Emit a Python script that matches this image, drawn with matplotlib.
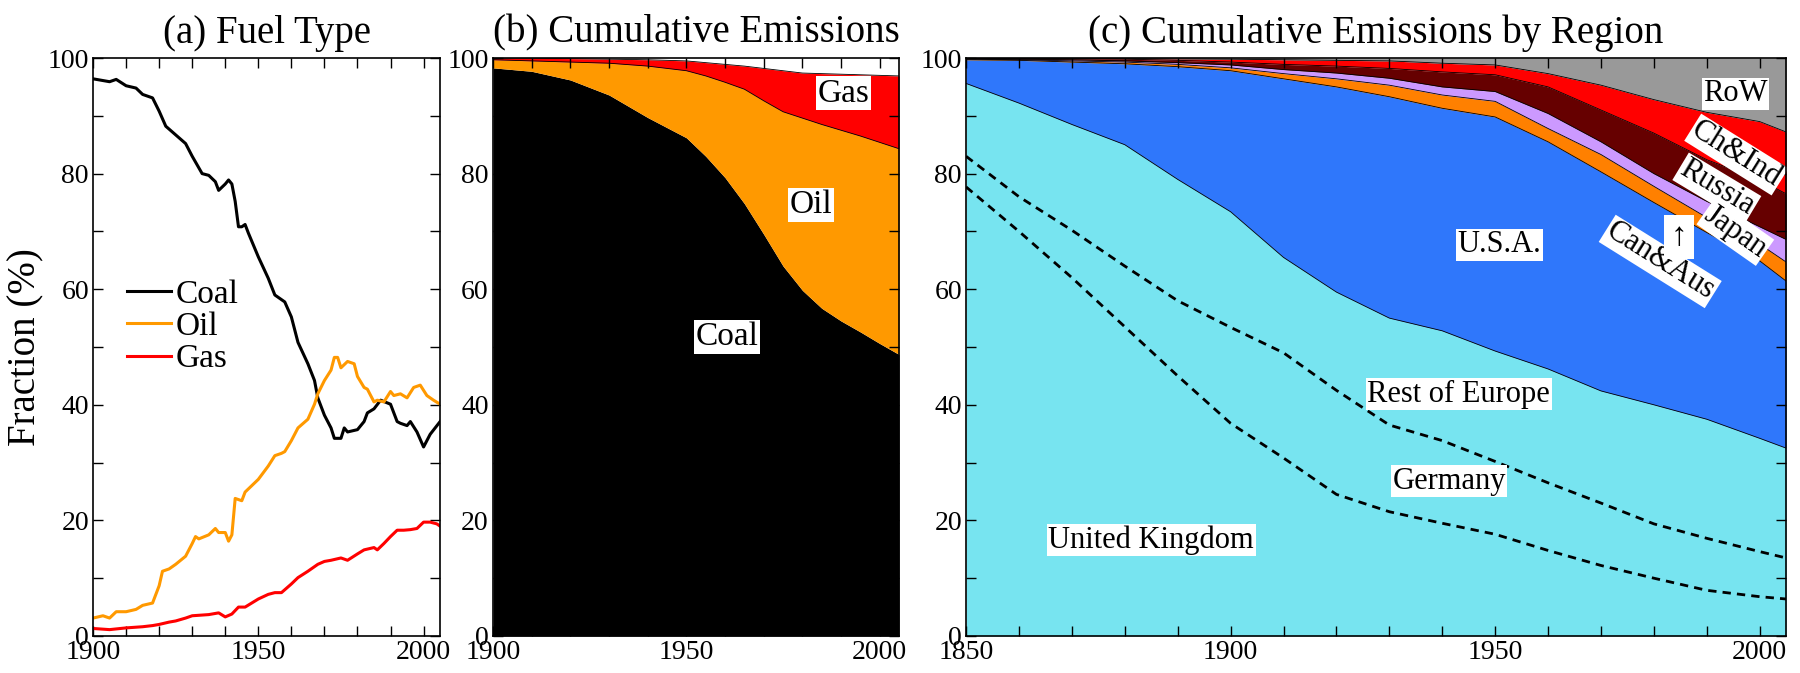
import numpy as np
import matplotlib.pyplot as plt
from matplotlib.ticker import MultipleLocator

plt.rcParams['font.family'] = ['Liberation Serif', 'DejaVu Serif']

# (a) share of each fuel in annual emissions (%)
coal_yr = [1900, 1905, 1907, 1910, 1913, 1915, 1918, 1920, 1922, 1925, 1928, 1930,
           1933, 1935, 1937, 1938, 1940, 1941, 1942, 1943, 1944, 1945, 1946, 1947,
           1950, 1953, 1955, 1958, 1960, 1962, 1965, 1967, 1968, 1970, 1972, 1973,
           1975, 1976, 1977, 1980, 1982, 1983, 1985, 1987, 1990, 1992, 1993, 1995,
           1996, 1998, 2000, 2002, 2005]
coal_pct = [96.4, 95.9, 96.3, 95.2, 94.8, 93.7, 93.1, 90.8, 88.2, 86.7, 85.2, 83.0,
            80.0, 79.7, 78.6, 77.1, 78.2, 78.9, 78.2, 75.2, 70.8, 70.8, 71.2, 69.7,
            65.6, 61.9, 59.0, 57.8, 55.2, 50.8, 47.1, 44.2, 41.2, 38.2, 36.0, 34.2,
            34.2, 36.0, 35.3, 35.7, 37.1, 38.6, 39.3, 40.8, 40.1, 37.1, 36.8, 36.4,
            37.1, 35.3, 32.7, 34.9, 37.1]

oil_yr = [1900, 1903, 1905, 1907, 1910, 1913, 1915, 1918, 1920, 1921, 1923, 1925,
          1928, 1930, 1931, 1932, 1935, 1937, 1938, 1940, 1941, 1942, 1943, 1945,
          1946, 1948, 1950, 1953, 1955, 1957, 1958, 1960, 1962, 1965, 1967, 1968,
          1970, 1972, 1973, 1974, 1975, 1977, 1979, 1980, 1982, 1983, 1985, 1986,
          1988, 1990, 1991, 1993, 1995, 1997, 1999, 2001, 2003, 2005]
oil_pct = [3.1, 3.5, 3.1, 4.2, 4.2, 4.6, 5.3, 5.7, 8.7, 11.2, 11.6, 12.4,
           13.8, 16.0, 17.2, 16.8, 17.5, 18.6, 17.9, 17.9, 16.4, 17.5, 23.8, 23.4,
           24.9, 26.0, 27.1, 29.4, 31.2, 31.6, 31.9, 33.8, 36.0, 37.5, 40.1, 41.9,
           44.2, 46.0, 48.2, 48.2, 46.4, 47.5, 47.1, 44.9, 43.0, 42.7, 40.5, 40.8,
           40.5, 42.3, 41.6, 41.9, 41.2, 43.0, 43.4, 41.6, 40.8, 40.1]

gas_yr = [1900, 1905, 1910, 1915, 1918, 1920, 1923, 1925, 1928, 1930, 1935, 1938,
          1940, 1942, 1944, 1946, 1948, 1950, 1953, 1955, 1957, 1960, 1962, 1965,
          1968, 1970, 1972, 1975, 1977, 1980, 1982, 1985, 1986, 1988, 1990, 1992,
          1994, 1996, 1998, 2000, 2002, 2004, 2005]
gas_pct = [1.3, 1.1, 1.4, 1.6, 1.8, 2.0, 2.4, 2.6, 3.1, 3.5, 3.7, 4.0,
           3.3, 3.8, 5.0, 5.0, 5.7, 6.4, 7.2, 7.5, 7.5, 9.0, 10.1, 11.2,
           12.4, 12.9, 13.1, 13.5, 13.1, 14.2, 14.9, 15.3, 14.9, 16.0, 17.2, 18.3,
           18.3, 18.4, 18.6, 19.7, 19.7, 19.4, 19.0]

# (b) cumulative emissions, stacked tops (%)
cum_yr = [1900, 1910, 1920, 1930, 1940, 1950, 1955, 1960, 1965, 1970, 1975,
          1980, 1985, 1990, 1995, 2000, 2005]
coal_top = [98.3, 97.7, 96.2, 93.6, 89.7, 86.2, 83.0, 79.3, 74.8, 69.5, 64.0,
            59.8, 56.7, 54.5, 52.6, 50.6, 48.7]
oil_top = [99.7, 99.5, 99.3, 99.1, 98.6, 97.8, 96.9, 95.8, 94.6, 92.6, 90.7,
           89.6, 88.5, 87.5, 86.5, 85.4, 84.3]
gas_top = [100.0, 99.95, 99.9, 99.8, 99.7, 99.5, 99.2, 98.9, 98.6, 98.2, 97.8,
           97.4, 97.3, 97.2, 97.1, 97.0, 96.9]

# (c) cumulative emissions by region, stacked tops (%)
reg_yr = [1850, 1860, 1870, 1880, 1890, 1900, 1910, 1920, 1930, 1940, 1950,
          1960, 1970, 1980, 1990, 2000, 2005]
uk_top = [77.7, 70.0, 62.0, 53.5, 45.0, 36.8, 30.8, 24.5, 21.5, 19.5, 17.6,
          14.8, 12.2, 10.0, 7.9, 6.8, 6.4]
germany_top = [83.0, 76.0, 70.2, 64.0, 58.0, 53.4, 49.0, 42.5, 36.5, 33.8, 30.2,
               26.5, 23.0, 19.4, 16.9, 14.6, 13.5]
europe_top = [95.6, 92.2, 88.5, 85.0, 79.0, 73.4, 65.5, 59.5, 55.0, 52.8, 49.3,
              46.2, 42.4, 40.0, 37.5, 34.2, 32.5]
usa_top = [99.7, 99.6, 99.3, 99.0, 98.5, 97.8, 96.4, 95.0, 93.3, 91.3, 89.8,
           85.5, 80.3, 75.0, 69.8, 64.9, 61.4]
canaus_top = [99.8, 99.7, 99.5, 99.3, 98.9, 98.3, 97.3, 96.4, 95.3, 93.6, 92.5,
              87.8, 83.3, 77.8, 72.4, 67.8, 64.7]
japan_top = [99.9, 99.8, 99.7, 99.5, 99.2, 98.8, 98.0, 97.4, 96.5, 95.0, 94.2,
             90.4, 85.5, 80.0, 75.2, 70.8, 68.6]
russia_top = [99.95, 99.9, 99.85, 99.8, 99.6, 99.3, 98.9, 98.6, 98.2, 97.6, 97.1,
              95.0, 91.0, 87.0, 82.4, 78.9, 76.5]
chind_top = [100.0, 99.98, 99.95, 99.9, 99.85, 99.8, 99.7, 99.6, 99.5, 99.1, 98.8,
             97.3, 95.3, 92.8, 90.6, 89.0, 87.2]
row_top = [100.0] * len(reg_yr)

ORANGE = '#ff9900'
RED = '#ff0000'

fig = plt.figure(figsize=(18, 6.73), dpi=100)
ax_a = fig.add_axes([0.0517, 0.055, 0.1928, 0.8588])
ax_b = fig.add_axes([0.2739, 0.055, 0.2256, 0.8588])
ax_c = fig.add_axes([0.5367, 0.055, 0.4556, 0.8588])


def frame(ax, x0):
    ax.set_xlim(x0, 2005)
    ax.set_ylim(0, 100)
    ax.xaxis.set_major_locator(MultipleLocator(50))
    ax.xaxis.set_minor_locator(MultipleLocator(10))
    ax.yaxis.set_major_locator(MultipleLocator(20))
    ax.yaxis.set_minor_locator(MultipleLocator(10))
    ax.tick_params(which='both', direction='in', top=True, right=True,
                   length=7, width=1.0, labelsize=20, pad=3)
    for s in ax.spines.values():
        s.set_linewidth(1.2)
        s.set_zorder(5)


box = dict(boxstyle='square,pad=0.05', fc='white', ec='none')
TITLE = 28

# (a)
ax_a.plot(coal_yr, coal_pct, color='black', lw=2.2, label='Coal')
ax_a.plot(oil_yr, oil_pct, color=ORANGE, lw=2.2, label='Oil')
ax_a.plot(gas_yr, gas_pct, color=RED, lw=2.2, label='Gas')
frame(ax_a, 1900)
ax_a.set_ylabel('Fraction (%)', fontsize=TITLE, labelpad=2)
ax_a.set_title('(a) Fuel Type', fontsize=TITLE, pad=11)
ax_a.legend(loc='center left', bbox_to_anchor=(0.06, 0.535), frameon=False,
            fontsize=24, handlelength=1.3, handletextpad=0.15, labelspacing=0.05,
            borderaxespad=0)

# (b)
ax_b.fill_between(cum_yr, 0, coal_top, color='black', lw=0)
ax_b.fill_between(cum_yr, coal_top, oil_top, color=ORANGE, lw=0)
ax_b.fill_between(cum_yr, oil_top, gas_top, color=RED, lw=0)
for top in (oil_top, gas_top):
    ax_b.plot(cum_yr, top, color='black', lw=0.6)
frame(ax_b, 1900)
ax_b.set_title('(b) Cumulative Emissions', fontsize=TITLE, pad=11)
ax_b.text(1960.5, 51.8, 'Coal', fontsize=24, ha='center', va='center', bbox=box)
ax_b.text(1982.2, 74.6, 'Oil', fontsize=24, ha='center', va='center', bbox=box)
ax_b.text(1990.6, 93.9, 'Gas', fontsize=24, ha='center', va='center', bbox=box)

# (c)
layers = [
    (np.zeros(len(reg_yr)), europe_top, '#77e4f0'),
    (europe_top, usa_top, '#2f77fb'),
    (usa_top, canaus_top, '#ff8000'),
    (canaus_top, japan_top, '#cc99ff'),
    (japan_top, russia_top, '#660000'),
    (russia_top, chind_top, RED),
    (chind_top, row_top, '#999999'),
]
for lo, hi, col in layers:
    ax_c.fill_between(reg_yr, lo, hi, color=col, lw=0)
for top in (europe_top, usa_top, canaus_top, japan_top, russia_top, chind_top):
    ax_c.plot(reg_yr, top, color='black', lw=0.6)
for top in (uk_top, germany_top):
    ax_c.plot(reg_yr, top, color='black', lw=2, ls=(0, (3, 2.2)))
frame(ax_c, 1850)
ax_c.set_title('(c) Cumulative Emissions by Region', fontsize=TITLE, pad=11)

kw = dict(fontsize=22, ha='center', va='center', bbox=box)
ax_c.text(1885, 16.6, 'United Kingdom', **kw)
ax_c.text(1941.3, 26.8, 'Germany', **kw)
ax_c.text(1943.1, 41.8, 'Rest of Europe', **kw)
ax_c.text(1950.8, 67.7, 'U.S.A.', **kw)
ax_c.text(1995.4, 93.8, 'RoW', **kw)
ax_c.text(1995.6, 83.3, 'Ch&Ind', rotation=-32, rotation_mode='anchor', **kw)
ax_c.text(1991.9, 77.5, 'Russia', rotation=-31, rotation_mode='anchor', **kw)
ax_c.text(1995.4, 69.9, 'Japan', rotation=-35, rotation_mode='anchor', **kw)
ax_c.text(1981.2, 64.8, 'Can&Aus', rotation=-32, rotation_mode='anchor', **kw)
ax_c.text(1984.8, 69.1, '\u2191', fontsize=24, ha='center', va='center',
          bbox=dict(boxstyle='square,pad=0.2', fc='white', ec='none'))

fig.savefig('out.png', dpi=100)
